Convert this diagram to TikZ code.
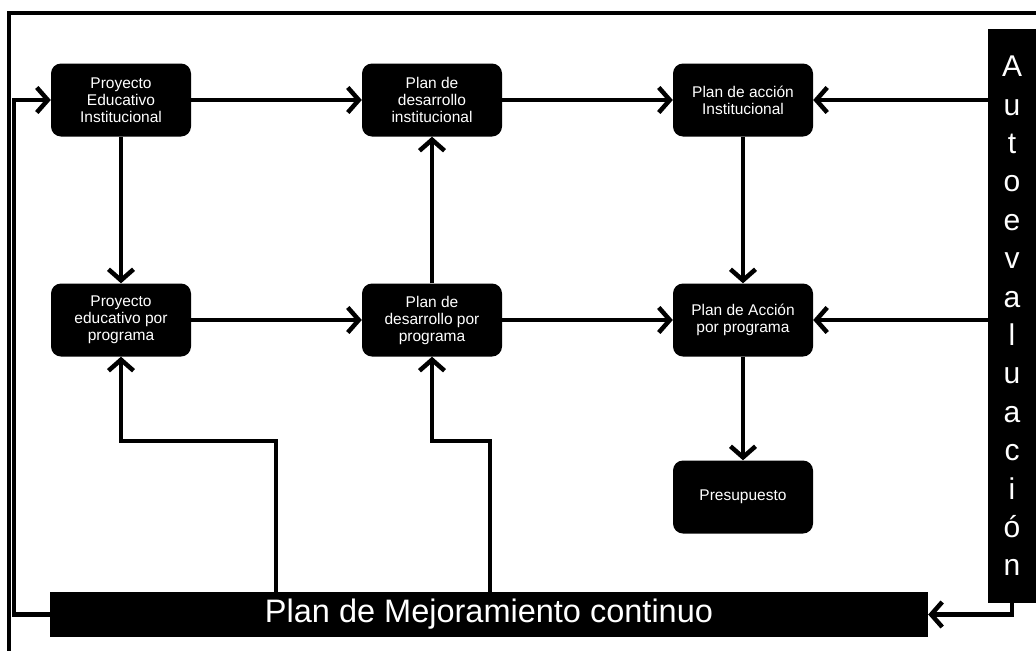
\documentclass[tikz,border=0pt]{standalone}
\usepackage{fontspec}
\setmainfont{Liberation Sans}
\usetikzlibrary{arrows.meta}
\begin{document}
\begin{tikzpicture}[x=1pt,y=-1pt,
  box/.style={fill=black,text=white,rounded corners=10pt,minimum width=140pt,minimum height=73pt,inner sep=2pt,align=center,font=\fontsize{15.5}{17}\selectfont},
  ln/.style={line width=4.5pt},
  arr/.style={line width=4.5pt,-{Straight Barb[length=11pt,width=25pt]}}]
\useasboundingbox (0,0) rectangle (1036,651);
% frame
\draw[ln] (1036,13) -- (9,13) -- (9,651);
% nodes
\node[box] (pei) at (121,100) {Proyecto\\Educativo\\Institucional};
\node[box] (pdi) at (432,100) {Plan de\\desarrollo\\institucional};
\node[box] (pai) at (743,100) {Plan de acción\\Institucional};
\node[box] (pep) at (121,320) {Proyecto\\educativo por\\programa};
\node[box] (pdp) at (432,320) {Plan de\\desarrollo por\\programa};
\node[box] (pap) at (743,320) {Plan de Acción\\por programa};
\node[box] (pre) at (743,497) {Presupuesto};
\node[fill=black,text=white,minimum width=878pt,minimum height=45pt,inner sep=0pt,font=\fontsize{32.5}{36}\selectfont] (bar) at (489,614.5) {Plan de Mejoramiento continuo};
\node[fill=black,text=white,minimum width=48pt,minimum height=574pt,inner sep=0pt,align=center,font=\fontsize{30}{38.4}\selectfont] (auto) at (1012,316) {A\\u\\t\\o\\e\\v\\a\\l\\u\\a\\c\\i\\ó\\n};
% coordinates
\coordinate (lc) at (14,100);
\coordinate (j1) at (276,441);
\coordinate (j2) at (490,441);
% connectors
\draw[arr] (pei) -- (pdi);
\draw[arr] (pdi) -- (pai);
\draw[arr] (pei) -- (pep);
\draw[arr] (pai) -- (pap);
\draw[arr] (pep) -- (pdp);
\draw[arr] (pdp) -- (pap);
\draw[arr] (pdp) -- (pdi);
\draw[arr] (pap) -- (pre);
\draw[arr] (pai.east -| auto.west) -- (pai.east);
\draw[arr] (pap.east -| auto.west) -- (pap.east);
\draw[arr] (auto.south) |- (bar.east);
\draw[arr] (bar.west) -| (lc) -- (pei.west);
\draw[arr] (j1 |- bar.north) -- (j1) -| (pep.south);
\draw[arr] (j2 |- bar.north) -- (j2) -| (pdp.south);
\end{tikzpicture}
\end{document}
